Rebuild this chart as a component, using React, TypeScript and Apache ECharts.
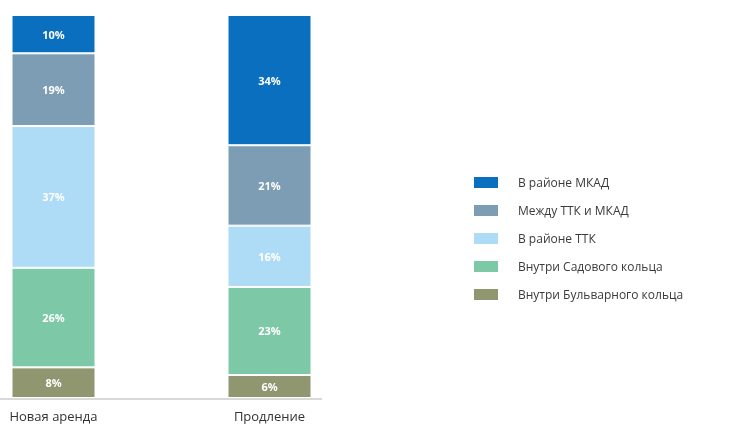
import React, { useEffect, useRef } from "react";
import * as echarts from "echarts";

const categories = ["Новая аренда", "Продление"];
const seriesNames = [
  "Внутри Бульварного кольца",
  "Внутри Садового кольца",
  "В районе ТТК",
  "Между ТТК и МКАД",
  "В районе МКАД",
];
const bulvarnoe = [8, 6];
const sadovoe = [26, 23];
const ttk = [37, 16];
const mezhdu = [19, 21];
const mkad = [10, 34];
const colors = ["#8F9670", "#7DC8A6", "#AEDBF5", "#7D9DB5", "#0A6FBF"];
const legendOrder = [
  "В районе МКАД",
  "Между ТТК и МКАД",
  "В районе ТТК",
  "Внутри Садового кольца",
  "Внутри Бульварного кольца",
];

export default function App() {
  const ref = useRef<HTMLDivElement>(null);
  useEffect(() => {
    if (!ref.current) return;
    const chart = echarts.init(ref.current, undefined, { renderer: "svg" });
    const values = [bulvarnoe, sadovoe, ttk, mezhdu, mkad];
    chart.setOption({
      animation: false,
      textStyle: { fontFamily: "Open Sans" },
      grid: { left: 53.5, right: 470.5, top: 15, bottom: 30 },
      legend: {
        data: legendOrder,
        orient: "vertical",
        left: 472,
        top: 175,
        padding: 0,
        itemWidth: 26,
        itemHeight: 13,
        itemGap: 13,
        icon: "rect",
        textStyle: { fontSize: 12, color: "#3a3a3a", padding: [0, 0, 0, 14] },
      },
      xAxis: {
        type: "category",
        data: categories,
        boundaryGap: false,
        axisLine: { show: false },
        axisTick: { show: false },
        axisLabel: { margin: 11, fontSize: 13, color: "#333" },
      },
      yAxis: { type: "value", min: 0, max: 100, show: false },
      graphic: [
        {
          type: "line",
          shape: { x1: 0, y1: 399, x2: 322, y2: 399 },
          style: { stroke: "#d9d9d9", lineWidth: 2 },
        },
      ],
      series: seriesNames.map((name, i) => ({
        name,
        type: "bar",
        stack: "total",
        barWidth: 84,
        data: values[i],
        itemStyle: { color: colors[i], borderColor: "#fff", borderWidth: 1 },
        label: {
          show: true,
          position: "inside",
          formatter: "{c}%",
          color: "#fff",
          fontSize: 11,
          fontWeight: "bold",
        },
      })),
    });
    return () => chart.dispose();
  }, []);
  return (
    <div
      ref={ref}
      style={{ position: "fixed", left: 0, top: 0, width: 740, height: 428 }}
    />
  );
}
